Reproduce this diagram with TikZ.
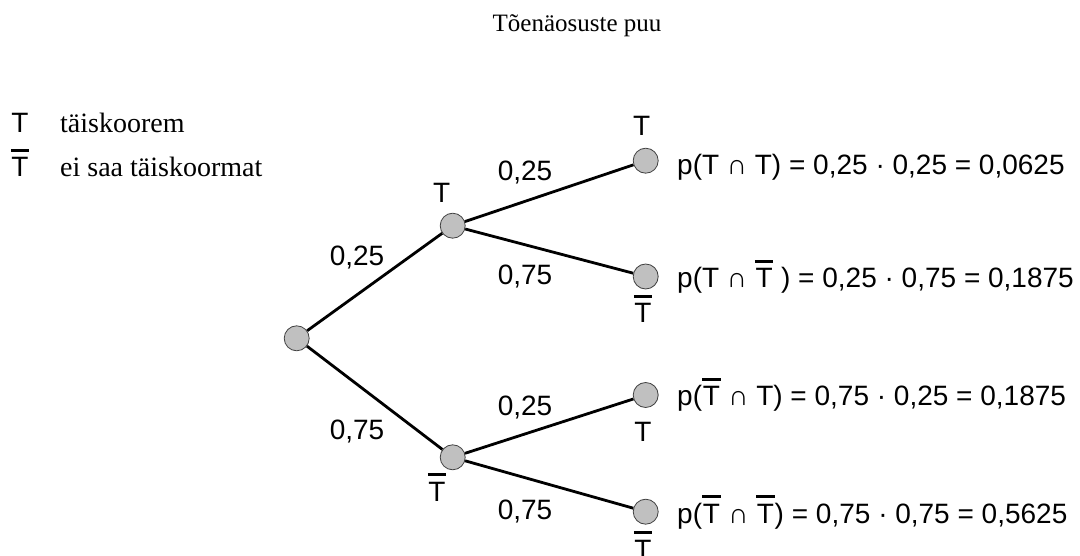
\documentclass[tikz,border=0pt]{standalone}
\usepackage{fontspec}
\setmainfont{Liberation Serif}
\setsansfont{Liberation Sans}
\usepackage{tikz}
\definecolor{ballFill}{HTML}{C0C0C0}
\definecolor{ballLine}{HTML}{404040}
\newcommand{\nT}{\ooalign{\hfil\rule[0.9em]{0.66em}{2.6pt}\hfil\cr\hfil T\hfil}}

\begin{document}
\begin{tikzpicture}[x=1pt,y=-1pt,
  ball/.style={circle,fill=ballFill,draw=ballLine,line width=0.8pt,minimum size=25pt,inner sep=0pt},
  branch/.style={line width=2.8pt},
  lbl/.style={font=\sffamily\fontsize{28}{30}\selectfont,inner sep=0pt,anchor=base},
  prob/.style={font=\sffamily\fontsize{28}{30}\selectfont,inner sep=0pt},
  formula/.style={font=\sffamily\fontsize{28}{30}\selectfont,inner sep=0pt,anchor=base west},
  legend/.style={font=\fontsize{28}{30}\selectfont,inner sep=0pt,anchor=base west}]
\useasboundingbox (0,0) rectangle (1080,556);
% title
\node[font=\fontsize{25}{28}\selectfont,inner sep=0pt,anchor=base] (title) at (577,32) {Tõenäosuste puu};
% legend
\node[lbl] (legT) at (20,133) {T};\node[legend] (legTtxt) at (60,133) {täiskoorem};
\node[lbl] (legN) at (20,177) {\nT};\node[legend] (legNtxt) at (60,177) {ei saa täiskoormat};
% tree
\node[ball] (root) at (296.7,338.3) {};
\node[ball] (nT) at (452.7,225.7) {};
\node[ball] (nN) at (452.7,457.3) {};
\node[ball] (leafTT) at (645.7,160.7) {};
\node[ball] (leafTN) at (645.7,276.5) {};
\node[ball] (leafNT) at (645.7,395) {};
\node[ball] (leafNN) at (645.7,511.7) {};
\draw[branch] (root) -- (nT);\draw[branch] (root) -- (nN);
\draw[branch] (nT) -- (leafTT);\draw[branch] (nT) -- (leafTN);
\draw[branch] (nN) -- (leafNT);\draw[branch] (nN) -- (leafNN);
% outcome labels
\node[lbl] (labT) at (441.7,203) {T};
\node[lbl] (labN) at (437,501) {\nT};
\node[lbl] (labTT) at (641.7,136) {T};
\node[lbl] (labTN) at (643,323) {\nT};
\node[lbl] (labNT) at (643,441) {T};
\node[lbl] (labNN) at (643,559) {\nT};
% probabilities
\node[prob] (pT) at (357,258) {0,25};
\node[prob] (pN) at (357,432) {0,75};
\node[prob] (pTT) at (525,173) {0,25};
\node[prob] (pTN) at (525,277) {0,75};
\node[prob] (pNT) at (525,408) {0,25};
\node[prob] (pNN) at (525,512) {0,75};
% products
\node[formula] (fTT) at (677,175) {p(T ∩ T) = 0,25 · 0,25 = 0,0625};
\node[formula] (fTN) at (677,288) {p(T ∩ \nT\ ) = 0,25 · 0,75 = 0,1875};
\node[formula] (fNT) at (677,406) {p(\nT\ ∩ T) = 0,75 · 0,25 = 0,1875};
\node[formula] (fNN) at (677,523) {p(\nT\ ∩ \nT) = 0,75 · 0,75 = 0,5625};
\end{tikzpicture}
\end{document}
